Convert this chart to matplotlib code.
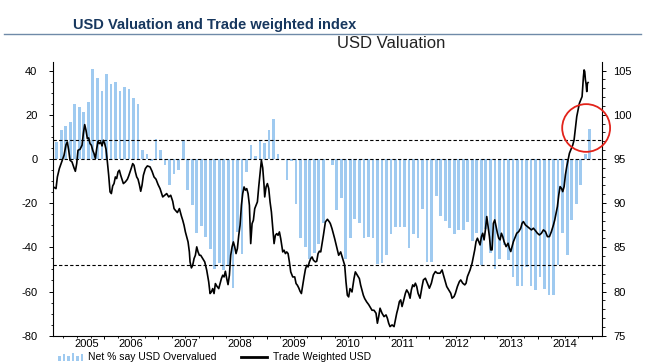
import numpy as np
import matplotlib
matplotlib.use("Agg")
import matplotlib.pyplot as plt
from matplotlib import font_manager
from matplotlib.patches import Ellipse, Rectangle
from matplotlib.lines import Line2D
import matplotlib.transforms as mtransforms

# ---------------- data ----------------
# Net % saying USD overvalued, monthly bars (Feb 2005 .. Dec 2014)
bar_values = [
    7.5, 13.3, 14.7, 16.5, 24.7, 23.3, 21.4, 25.6, 40.6, 36.5,
    30.6, 38.6, 33.8, 34.7, 30.6, 32.4, 31.5, 27.6, 24.7, 4.1,
    2.4, -0.9, 9.2, 4.2, -2.9, -11.7, -7.0, -5.2, 8.6, -14.1,
    -21.0, -33.3, -30.2, -35.2, -40.9, -50.0, -47.3, -50.3, -48.5, -58.3,
    -33.0, -43.0, -6.0, 6.5, 1.4, 8.3, 7.4, 13.3, 18.2, 2.4,
    0.0, -9.5, -0.9, -20.2, -36.0, -40.0, -45.5, -42.7, -38.6, -29.2,
    0.0, -2.9, -23.3, -17.9, -45.2, -36.0, -27.0, -29.2, -36.0, -35.3,
    -36.0, -47.7, -47.0, -43.3, -34.2, -30.8, -30.8, -30.9, -40.2, -34.2,
    -36.0, -22.6, -46.8, -46.8, -17.0, -25.9, -27.9, -31.4, -33.9, -32.3,
    -32.3, -28.5, -37.1, -33.3, -47.9, -31.5, -42.7, -50.0, -45.5, -38.9,
    -45.9, -53.5, -57.3, -57.3, -48.9, -57.3, -59.1, -53.5, -58.8, -61.4,
    -61.4, -47.9, -33.6, -43.3, -27.7, -20.2, -11.8, 2.4, 13.5,
]

# Trade weighted USD (right axis): (position in months from first bar, index level)
twi_trace = [
    (-0.74, 91.83), (-0.15, 91.64), (0.15, 92.96), (0.59, 93.91), (1.11, 94.66), (1.62, 95.41),
    (2.07, 96.62), (2.36, 96.92), (2.66, 95.98), (2.95, 94.85), (3.39, 94.66), (3.84, 93.98),
    (4.13, 93.60), (4.43, 94.47), (4.72, 95.98), (5.17, 96.09), (5.61, 96.55), (5.90, 97.87),
    (6.20, 98.88), (6.49, 98.24), (6.79, 97.30), (7.08, 97.38), (7.38, 96.73), (7.68, 96.55),
    (7.97, 95.98), (8.27, 95.60), (8.56, 95.04), (8.86, 96.17), (9.15, 97.00), (9.45, 96.73),
    (9.74, 96.92), (10.04, 96.47), (10.33, 97.11), (10.63, 96.73), (10.92, 96.09), (11.22, 94.66),
    (11.51, 93.15), (11.81, 91.27), (12.10, 91.08), (12.40, 91.95), (12.69, 92.21), (12.99, 92.96),
    (13.28, 92.78), (13.58, 93.53), (13.87, 93.72), (14.17, 93.15), (14.46, 92.70), (14.76, 92.21),
    (15.20, 92.40), (15.65, 92.70), (15.94, 93.08), (16.24, 93.53), (16.53, 93.98), (16.83, 94.47),
    (17.12, 94.28), (17.42, 93.53), (17.71, 92.96), (18.01, 92.70), (18.30, 92.10), (18.60, 91.34),
    (18.89, 92.02), (19.19, 93.15), (19.63, 93.91), (20.07, 94.21), (20.66, 94.10), (21.11, 93.60),
    (21.55, 92.96), (21.99, 92.70), (22.44, 92.10), (22.88, 91.64), (23.17, 91.19), (23.47, 90.70),
    (23.91, 90.89), (24.35, 91.08), (24.80, 90.70), (25.24, 90.89), (25.68, 90.21), (25.98, 89.38),
    (26.27, 89.19), (26.72, 88.93), (27.16, 89.38), (27.60, 88.55), (27.90, 88.06), (28.19, 87.50),
    (28.49, 86.74), (28.78, 86.18), (29.08, 85.61), (29.37, 84.48), (29.52, 83.35), (29.82, 82.67),
    (30.11, 82.97), (30.41, 83.73), (30.70, 84.10), (31.00, 85.05), (31.29, 84.48), (31.59, 84.10),
    (31.88, 84.10), (32.32, 83.73), (32.77, 83.35), (33.21, 82.41), (33.65, 81.09), (33.95, 79.77),
    (34.24, 79.95), (34.54, 80.33), (34.83, 79.77), (35.13, 80.90), (35.42, 80.63), (35.87, 80.33),
    (36.16, 80.90), (36.46, 81.46), (36.75, 81.84), (37.05, 81.65), (37.34, 82.29), (37.64, 81.46),
    (37.93, 80.78), (38.23, 81.84), (38.52, 84.10), (38.82, 85.05), (39.11, 85.61), (39.41, 85.05),
    (39.70, 84.29), (40.00, 84.86), (40.30, 86.36), (40.59, 87.50), (40.89, 89.76), (41.18, 91.08),
    (41.48, 91.83), (41.77, 91.46), (42.07, 91.64), (42.36, 91.08), (42.66, 89.76), (42.95, 85.42),
    (43.25, 87.68), (43.54, 88.06), (43.84, 89.38), (44.13, 89.76), (44.43, 90.14), (44.72, 91.83),
    (45.02, 93.34), (45.31, 94.85), (45.61, 93.98), (45.90, 92.02), (46.05, 90.70), (46.35, 91.83),
    (46.64, 92.21), (46.94, 91.64), (47.23, 90.14), (47.53, 89.00), (47.82, 87.31), (48.12, 85.42),
    (48.41, 86.36), (48.71, 86.55), (49.00, 86.36), (49.30, 86.74), (49.59, 85.99), (50.04, 84.48),
    (50.33, 84.67), (50.63, 84.29), (50.92, 84.48), (51.22, 84.29), (51.51, 83.35), (51.81, 82.22),
    (52.25, 81.65), (52.69, 81.65), (52.99, 80.90), (53.28, 80.71), (53.58, 80.41), (53.87, 80.03),
    (54.17, 79.77), (54.46, 80.71), (54.76, 81.65), (55.06, 82.52), (55.35, 82.97), (55.65, 82.78),
    (55.94, 83.35), (56.24, 83.73), (56.53, 83.91), (56.83, 83.54), (57.27, 83.35), (57.56, 83.42),
    (57.86, 84.29), (58.15, 84.56), (58.45, 84.48), (58.75, 85.42), (59.04, 86.36), (59.48, 87.87),
    (59.93, 88.17), (60.37, 87.87), (60.58, 87.68), (60.94, 87.12), (61.53, 85.99), (62.05, 84.86),
    (62.42, 84.10), (62.86, 84.48), (63.31, 83.73), (63.75, 82.97), (64.04, 81.09), (64.34, 79.58),
    (64.63, 79.39), (64.93, 80.33), (65.37, 79.95), (65.81, 81.46), (66.11, 82.22), (66.55, 81.84),
    (67.00, 81.46), (67.29, 80.71), (67.59, 80.14), (67.88, 79.58), (68.18, 79.20), (68.62, 78.82),
    (69.06, 78.52), (69.50, 78.14), (69.80, 77.88), (70.24, 77.88), (70.69, 77.54), (70.99, 76.41),
    (71.28, 77.16), (71.58, 78.11), (72.02, 77.54), (72.46, 77.16), (72.90, 77.35), (73.20, 76.98),
    (73.49, 76.41), (73.79, 76.03), (74.24, 76.22), (74.68, 76.03), (74.97, 76.79), (75.27, 77.54),
    (75.56, 78.11), (75.86, 78.86), (76.15, 79.05), (76.45, 78.30), (76.74, 78.86), (77.19, 79.80),
    (77.48, 80.18), (77.92, 79.80), (78.22, 79.24), (78.51, 80.18), (78.81, 80.75), (79.11, 80.56),
    (79.40, 80.94), (79.70, 80.56), (79.99, 79.80), (80.43, 79.24), (80.88, 80.56), (81.17, 81.31),
    (81.61, 81.50), (82.06, 80.94), (82.50, 80.37), (82.94, 80.94), (83.38, 81.88), (83.83, 82.26),
    (84.27, 82.07), (84.86, 82.07), (85.31, 82.44), (85.60, 81.88), (86.04, 81.12), (86.34, 80.56),
    (86.78, 80.18), (87.23, 79.80), (87.52, 79.24), (87.96, 79.43), (88.26, 79.80), (88.70, 80.56),
    (89.14, 81.12), (89.44, 81.31), (89.88, 80.94), (90.33, 80.75), (90.62, 80.94), (90.92, 81.69),
    (91.21, 82.07), (91.51, 82.44), (91.95, 83.20), (92.24, 83.95), (92.54, 84.71), (92.83, 85.65),
    (93.13, 86.03), (93.43, 85.65), (93.72, 85.27), (94.02, 86.21), (94.31, 86.59), (94.61, 85.84),
    (94.90, 86.97), (95.20, 88.48), (95.49, 87.35), (95.79, 86.21), (96.08, 84.71), (96.38, 84.71),
    (96.67, 87.72), (96.97, 88.10), (97.26, 87.35), (97.56, 86.59), (97.85, 86.03), (98.15, 85.84),
    (98.44, 86.59), (98.74, 86.21), (99.03, 85.65), (99.48, 85.08), (99.92, 85.46), (100.21, 84.89),
    (100.51, 84.52), (100.81, 85.08), (101.10, 85.65), (101.54, 86.21), (101.84, 86.59), (102.28, 86.78),
    (102.72, 87.16), (103.02, 87.72), (103.31, 87.91), (103.76, 87.53), (104.20, 87.35), (104.64, 87.16),
    (105.09, 86.97), (105.53, 87.16), (105.97, 86.89), (106.41, 86.59), (106.86, 86.40), (107.30, 86.59),
    (107.74, 86.97), (108.19, 86.78), (108.63, 86.21), (109.07, 86.21), (109.51, 86.78), (109.96, 87.53),
    (110.25, 88.10), (110.55, 88.85), (110.84, 89.61), (111.14, 90.93), (111.43, 91.87), (111.73, 91.68),
    (112.02, 91.30), (112.32, 91.87), (112.61, 93.19), (112.91, 94.13), (113.20, 94.89), (113.50, 95.64),
    (113.80, 96.02), (114.24, 96.58), (114.53, 97.15), (114.83, 98.47), (115.12, 99.79), (115.42, 100.54),
    (115.71, 101.30), (116.01, 101.67), (116.30, 102.05), (116.45, 103.18), (116.60, 104.31), (116.75, 105.07),
    (116.89, 104.88), (117.04, 103.94), (117.19, 103.48), (117.34, 102.62), (117.49, 103.56), (117.63, 103.64),
]

ref_levels = [8.5, 0.0, -48.0]            # dashed reference lines (left axis)
year_labels = ["2005", "2006", "2007", "2008", "2009", "2010", "2011", "2012", "2013", "2014"]
left_ticks = [-80, -60, -40, -20, 0, 20, 40]
right_ticks = [75, 80, 85, 90, 95, 100, 105]
highlight = (117.2, 98.5)                  # red circle centre (month pos, index level)

title_text = "USD Valuation and Trade weighted index"
subtitle_text = "USD Valuation"
legend_bar_label = "Net % say USD Overvalued"
legend_line_label = "Trade Weighted USD"

# ---------------- style ----------------
plt.rcParams["font.family"] = ["Liberation Sans", "DejaVu Sans"]
plt.rcParams["axes.unicode_minus"] = False

def has_font(name):
    try:
        font_manager.findfont(name, fallback_to_default=False)
        return True
    except Exception:
        return False

narrow = has_font("Liberation Sans Narrow")

W, H = 645, 363
fig = plt.figure(figsize=(W / 100, H / 100), dpi=100)
fig.patch.set_facecolor("white")

def fx(px):
    return px / W

def fy(py):
    return 1 - py / H

ax = fig.add_axes([fx(53.3), fy(335.7), fx(601.5) - fx(53.3), fy(61.7) - fy(335.7)])
ax2 = ax.twinx()

bar_color = "#9fcaf0"
x_bars = np.arange(len(bar_values))
ax.bar(x_bars, bar_values, width=0.6, color=bar_color, zorder=1, linewidth=0)
for lvl in ref_levels:
    ax.axhline(lvl, color="black", lw=0.8, dashes=(3, 2), zorder=3)

twi_pos, twi_val = zip(*twi_trace)
ax2.plot(twi_pos, twi_val, color="black", lw=1.2, zorder=4)

ax2.add_patch(Ellipse(highlight, 10.6, 5.4, fill=False, ec="#e2231a", lw=1.3,
                      clip_on=False, zorder=5))

ax.set_xlim(-0.75, 120.6)
ax.set_ylim(-80, 44)
ax2.set_ylim(75, 106)

for s in ["top", "right"]:
    ax.spines[s].set_visible(False)
for s in ["top", "left", "bottom"]:
    ax2.spines[s].set_visible(False)
for a in (ax, ax2):
    for s in a.spines.values():
        s.set_linewidth(0.8)

ax.set_yticks(left_ticks)
ax.set_yticks(np.arange(-80, 41, 5), minor=True)
ax2.set_yticks(right_ticks)
ax2.set_yticks(np.arange(75, 106, 1), minor=True)
ax.tick_params(axis="y", which="major", length=3.0, width=0.7, pad=8.5, labelsize=8, colors="black")
ax.tick_params(axis="y", which="minor", length=1.8, width=0.6)
ax2.tick_params(axis="y", which="major", length=3.0, width=0.7, pad=5.5, labelsize=8, colors="black")
ax2.tick_params(axis="y", which="minor", length=1.8, width=0.6)

ax.set_xticks(np.arange(10.5, 121, 12))
ax.set_xticklabels([])
ax.set_xticks(np.arange(1.5, 121, 3), minor=True)
ax.tick_params(axis="x", which="major", length=2.4, width=0.7)
ax.tick_params(axis="x", which="minor", length=1.7, width=0.6)

label_pos = [6.6] + [16.5 + 12 * k for k in range(len(year_labels) - 1)]
trans = mtransforms.blended_transform_factory(ax.transData, fig.transFigure)
for lab, p in zip(year_labels, label_pos):
    ax.text(p, fy(344), lab, transform=trans, ha="center", va="center", fontsize=8)

# ---------------- titles ----------------
if narrow:
    fig.text(fx(73), fy(29.5), title_text, fontsize=13, fontweight="bold",
             family=["Liberation Sans Narrow", "DejaVu Sans"], color="#17375e",
             ha="left", va="baseline")
else:
    fig.text(fx(73), fy(29.5), title_text, fontsize=10.5, fontweight="bold",
             color="#17375e", ha="left", va="baseline")
fig.add_artist(Line2D([fx(4), fx(641)], [fy(33.5), fy(33.5)], color="#6f8aa8", lw=1.0))
fig.text(fx(391), fy(43), subtitle_text, fontsize=12, color="#222222",
         ha="center", va="center")

# ---------------- legend ----------------
icon_heights = [5, 7, 5, 8, 5, 7]
for k, h in enumerate(icon_heights):
    fig.add_artist(Rectangle((fx(58 + 4.5 * k), fy(361)), fx(2.6), h / H,
                             color=bar_color, lw=0))
fig.text(fx(88), fy(357), legend_bar_label, fontsize=7.5, ha="left", va="center")
fig.add_artist(Line2D([fx(241), fx(267)], [fy(357), fy(357)], color="black", lw=2.0))
fig.text(fx(273), fy(356.5), legend_line_label, fontsize=7.5, ha="left", va="center")

fig.savefig("out.png", dpi=100, facecolor="white")
